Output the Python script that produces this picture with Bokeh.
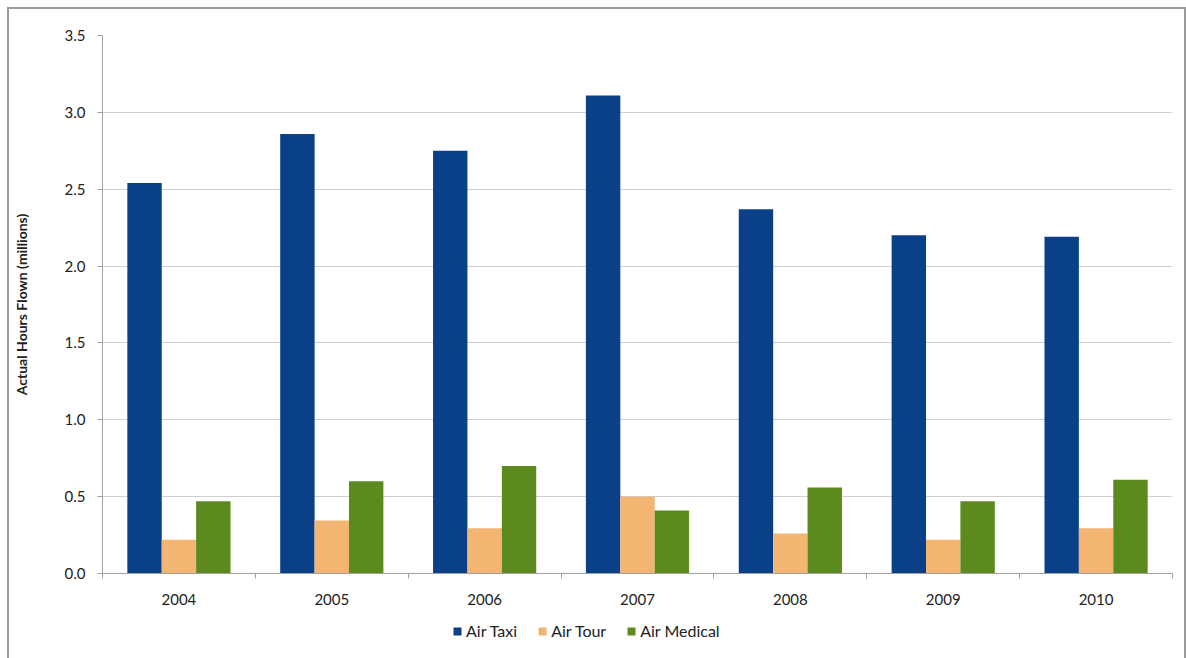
from bokeh.plotting import figure
from bokeh.layouts import column
from bokeh.models import ColumnDataSource, FixedTicker, Legend, LegendItem, Range1d, NumeralTickFormatter
from bokeh.transform import dodge
from bokeh.embed import file_html
from bokeh.resources import INLINE

years = ["2004", "2005", "2006", "2007", "2008", "2009", "2010"]
air_taxi = [2.54, 2.86, 2.75, 3.11, 2.37, 2.20, 2.19]
air_tour = [0.22, 0.345, 0.295, 0.50, 0.26, 0.22, 0.295]
air_medical = [0.47, 0.60, 0.70, 0.41, 0.56, 0.47, 0.61]
series_names = ["Air Taxi", "Air Tour", "Air Medical"]
colors = ["#0a4088", "#f5b572", "#5c8a1e"]
y_ticks = [0.0, 0.5, 1.0, 1.5, 2.0, 2.5, 3.0, 3.5]

FONT = "Lato"
idx = list(range(len(years)))
src = ColumnDataSource(dict(x=idx, taxi=air_taxi, tour=air_tour, med=air_medical))
fields = ["taxi", "tour", "med"]
bw = 0.225

p = figure(frame_width=1070, frame_height=538, output_backend="svg", toolbar_location=None,
           x_range=Range1d(-0.5, len(years) - 0.5), y_range=Range1d(0, 3.5),
           min_border_left=93, min_border_right=12, min_border_top=26, min_border_bottom=40,
           outline_line_color=None)

for i, (f, c) in enumerate(zip(fields, colors)):
    p.vbar(x=dodge("x", (i - 1) * bw, range=p.x_range), top=f, width=bw,
           source=src, fill_color=c, line_color=None)

# x axis
p.xaxis.ticker = FixedTicker(ticks=idx, minor_ticks=[i - 0.5 for i in range(len(years) + 1)])
p.xaxis.major_label_overrides = {i: y for i, y in enumerate(years)}
p.xaxis.major_tick_line_color = None
p.xaxis.minor_tick_line_color = "#a0a0a0"
p.xaxis.minor_tick_in = 0
p.xaxis.minor_tick_out = 5
p.xaxis.axis_line_color = "#a0a0a0"
p.xaxis.major_label_text_font = FONT
p.xaxis.major_label_text_font_size = "15px"
p.xaxis.major_label_text_color = "#222222"
p.xaxis.major_label_standoff = 14

# y axis
p.yaxis.ticker = FixedTicker(ticks=y_ticks, minor_ticks=[])
p.yaxis.formatter = NumeralTickFormatter(format="0.0")
p.yaxis.axis_line_color = "#a0a0a0"
p.yaxis.major_tick_line_color = "#a0a0a0"
p.yaxis.major_tick_in = 0
p.yaxis.major_tick_out = 5
p.yaxis.major_label_text_font = FONT
p.yaxis.major_label_text_font_size = "15px"
p.yaxis.major_label_text_color = "#222222"
p.yaxis.major_label_standoff = 12
p.yaxis.axis_label = "Actual Hours Flown (millions)"
p.yaxis.axis_label_text_font = FONT
p.yaxis.axis_label_text_font_style = "bold"
p.yaxis.axis_label_text_font_size = "14px"
p.yaxis.axis_label_text_color = "#222222"
p.yaxis.axis_label_standoff = 32

p.xgrid.grid_line_color = None
p.ygrid.ticker = FixedTicker(ticks=y_ticks)
p.ygrid.grid_line_color = "#cfcfcf"

# legend strip
p2 = figure(width=1175, height=46, output_backend="svg", toolbar_location=None,
            x_range=Range1d(-0.5, len(years) - 0.5), y_range=Range1d(0, 3.5),
            min_border=0, outline_line_color=None)
p2.axis.visible = False
p2.grid.visible = False
leg_renderers = []
for i, (f, c) in enumerate(zip(fields, colors)):
    r = p2.vbar(x=dodge("x", (i - 1) * bw, range=p2.x_range), top=f, width=bw,
                source=src, fill_color=c, line_color=None, visible=False)
    leg_renderers.append(r)

legend = Legend(items=[LegendItem(label=n, renderers=[r]) for n, r in zip(series_names, leg_renderers)],
                orientation="horizontal", location=(350, 19), border_line_color=None,
                background_fill_alpha=0, inactive_fill_alpha=0,
                label_text_font=FONT, label_text_font_size="16px", label_text_color="#222222",
                glyph_width=10, glyph_height=10, spacing=20, label_standoff=4, padding=0, margin=0)
p2.add_layout(legend, "center")

layout = column(p, p2, spacing=0, margin=(7, 0, 0, 7))
layout.styles = {"border": "2px solid #9a9a9a"}

open("out.html", "w").write(file_html(layout, INLINE))
